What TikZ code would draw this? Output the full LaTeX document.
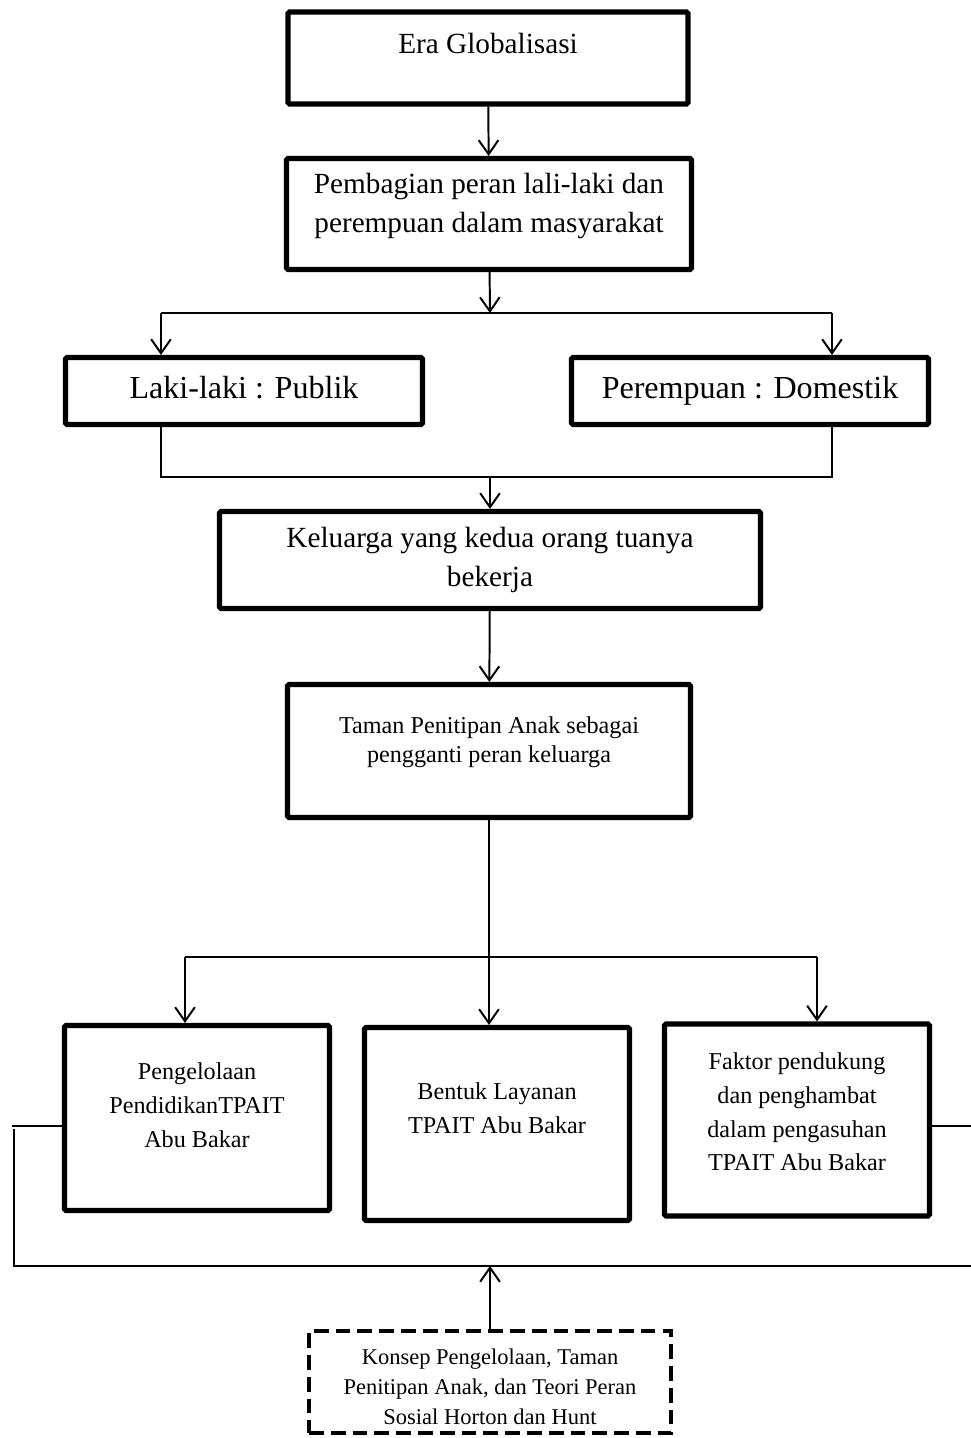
\documentclass[tikz,border=0pt]{standalone}
\usepackage{fontspec}
\setmainfont{Liberation Serif}
\usetikzlibrary{arrows.meta,positioning,calc}
\newcommand{\pix}{0.025cm}

\begin{document}
\begin{tikzpicture}[x=0.025cm,y=-0.025cm,
  wh/.style 2 args={minimum width=#1*\pix,minimum height=#2*\pix},
  box/.style={draw,line width=3.6pt,rounded corners=1pt,inner sep=0pt},
  dbox/.style={draw,line width=2.8pt,dash pattern=on 10.5pt off 5pt,inner sep=0pt},
  txt/.style={align=center,inner sep=0pt},
  big/.style={font=\fontsize{20.8}{27.5}\selectfont},
  huge/.style={font=\fontsize{22.8}{27}\selectfont,text height=1.6ex,text depth=0.4ex},
  mid/.style={font=\fontsize{17.2}{20.6}\selectfont},
  low/.style={font=\fontsize{17.2}{24}\selectfont},
  tiny/.style={font=\fontsize{16}{21.3}\selectfont},
  link/.style={line width=1.4pt},
  arr/.style={line width=1.4pt,-{Straight Barb[length=10pt,width=14pt]}},
]
  \useasboundingbox (0,0) rectangle (971,1438);

  % main column
  \node[box,wh={400}{92}] (era) at (488,58) {};
  \node[txt,big] at (488,43) {Era Globalisasi};

  \node[box,wh={405}{111}] (bagi) at (489,214) {};
  \node[txt,big] at (489,206) {Pembagian peran lali-laki dan\\perempuan dalam masyarakat};

  \node[box,wh={357}{67}] (laki) at (244,391) {};
  \node[txt,huge] at (244,395) {Laki-laki : Publik};
  \node[box,wh={357}{67}] (perem) at (750,391) {};
  \node[txt,huge] at (750,395) {Perempuan : Domestik};

  \node[box,wh={541}{97}] (kel) at (490,560) {};
  \node[txt,big] at (490,560) {Keluarga yang kedua orang tuanya\\bekerja};

  \node[box,wh={403}{133}] (taman) at (489,751) {};
  \node[txt,mid] at (489,742) {Taman Penitipan Anak sebagai\\pengganti peran keluarga};

  % three results
  \node[box,wh={265}{185}] (kelola) at (197,1118) {};
  \node[txt,low] at (197,1105) {Pengelolaan\\PendidikanTPAIT\\Abu Bakar};
  \node[box,wh={265}{193}] (layanan) at (497,1124) {};
  \node[txt,low] at (497,1108) {Bentuk Layanan\\TPAIT Abu Bakar};
  \node[box,wh={265}{192}] (faktor) at (797,1120) {};
  \node[txt,low] at (797,1112) {Faktor pendukung\\dan penghambat\\dalam pengasuhan\\TPAIT Abu Bakar};

  \node[dbox,wh={362}{102}] (konsep) at (490,1382) {};
  \node[txt,tiny] at (490,1387) {Konsep Pengelolaan, Taman\\Penitipan Anak, dan Teori Peran\\Sosial Horton dan Hunt};

  % fork and join points
  \coordinate (fork1) at (490,313);
  \coordinate (fork1L) at (161,313);
  \coordinate (fork1R) at (832,313);
  \coordinate (join1) at (490,477);
  \coordinate (fork2L) at (185,957);
  \coordinate (fork2R) at (817,957);
  \coordinate (brL) at (12,1126);
  \coordinate (brL2) at (14,1129);
  \coordinate (brR) at (971,1126);
  \coordinate (baseL) at (14,1266);
  \coordinate (baseR) at (971,1266);

  \draw[arr] (era) -- (bagi);
  \draw[arr] (bagi) -- (fork1);
  \draw[link] (fork1L) -- (fork1R);
  \draw[arr] (fork1L) -- (fork1L |- laki.north);
  \draw[arr] (fork1R) -- (fork1R |- perem.north);
  \draw[link] (fork1L |- laki.south) -- (fork1L |- join1) -- (fork1R |- join1) -- (fork1R |- perem.south);
  \draw[arr] (join1) -- (kel);
  \draw[arr] (kel) -- (taman);
  \draw[arr] (taman) -- (taman.south |- layanan.north);
  \draw[link] (fork2L) -- (fork2R);
  \draw[arr] (fork2L) -- (fork2L |- kelola.north);
  \draw[arr] (fork2R) -- (fork2R |- faktor.north);

  % bracket round the results
  \draw[link] (kelola.west |- brL) -- (brL);
  \draw[link] (brL2) -- (baseL) -- (baseR);
  \draw[link] (faktor.east |- brR) -- (brR);
  \draw[arr] (konsep) -- (konsep.north |- baseR);
\end{tikzpicture}
\end{document}
